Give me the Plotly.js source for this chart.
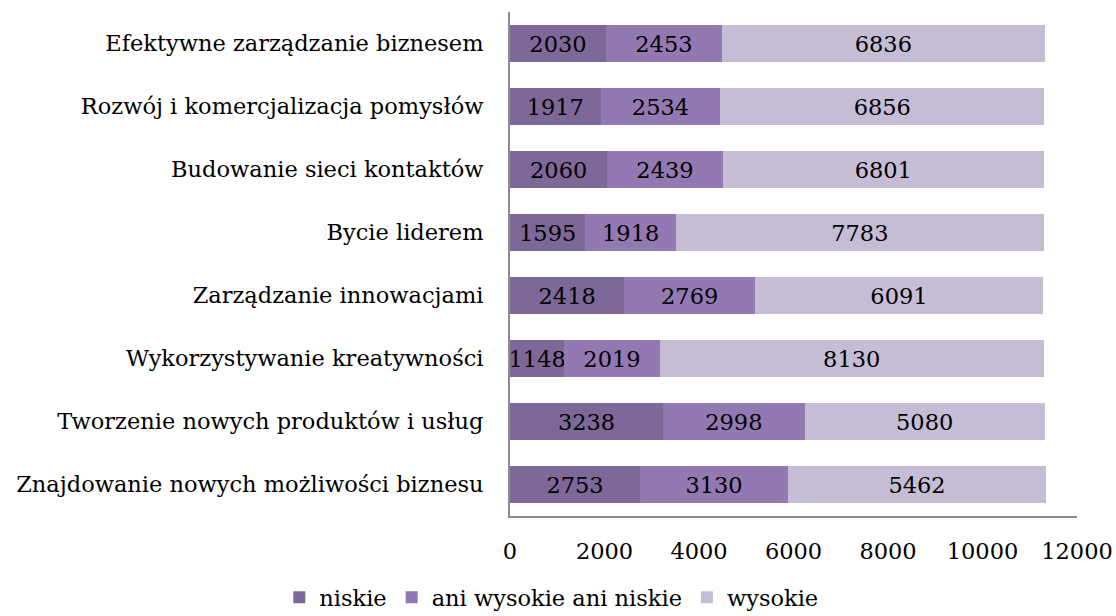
<!DOCTYPE html>
<html>
<head>
<meta charset="utf-8">
<script src="https://cdn.plot.ly/plotly-3.0.1.min.js"></script>
<style>html,body{margin:0;padding:0;background:#fff;}#chart{width:1116px;height:616px;}</style>
</head>
<body>
<div id="chart"></div>
<script>
const categories = [
  "Znajdowanie nowych możliwości biznesu",
  "Tworzenie nowych produktów i usług",
  "Wykorzystywanie kreatywności",
  "Zarządzanie innowacjami",
  "Bycie liderem",
  "Budowanie sieci kontaktów",
  "Rozwój i komercjalizacja pomysłów",
  "Efektywne zarządzanie biznesem"
];
const niskie = [2753, 3238, 1148, 2418, 1595, 2060, 1917, 2030];
const aniWysokieAniNiskie = [3130, 2998, 2019, 2769, 1918, 2439, 2534, 2453];
const wysokie = [5462, 5080, 8130, 6091, 7783, 6801, 6856, 6836];
const seriesNames = ["niskie", "ani wysokie ani niskie", "wysokie"];
const seriesColors = ["#7e6898", "#9279b1", "#c5bdd6"];
const xTicks = [0, 2000, 4000, 6000, 8000, 10000, 12000];

const FONT = "DejaVu Serif";
const FS = 22.5;

const seriesData = [niskie, aniWysokieAniNiskie, wysokie];
const traces = seriesData.map((vals, i) => ({
  type: "bar",
  orientation: "h",
  name: seriesNames[i],
  y: categories,
  x: vals,
  marker: {color: seriesColors[i], line: {width: 0}},
  text: vals.map(String),
  textposition: "inside",
  insidetextanchor: "middle",
  constraintext: "none",
  textfont: {family: FONT, size: FS, color: "#000"},
  cliponaxis: false,
  hoverinfo: "x+name"
}));

const layout = {
  width: 1116,
  height: 616,
  barmode: "stack",
  bargap: 0.41,
  margin: {l: 510, r: 39, t: 12, b: 100},
  paper_bgcolor: "#fff",
  plot_bgcolor: "#fff",
  font: {family: FONT, size: FS, color: "#000"},
  showlegend: true,
  legend: {
    orientation: "h",
    xref: "container", yref: "container",
    x: 0.494, xanchor: "center",
    y: 0.03, yanchor: "middle",
    font: {family: FONT, size: FS, color: "#000"},
    itemwidth: 30,
    tracegroupgap: 0,
    traceorder: "normal"
  },
  xaxis: {
    range: [0, 12000],
    tickvals: xTicks,
    ticktext: xTicks.map(String),
    showgrid: false,
    zeroline: false,
    showline: true,
    linecolor: "#8c8c8c",
    linewidth: 2,
    ticks: "",
    ticklabelstandoff: 14,
    tickfont: {family: FONT, size: FS, color: "#000"},
    fixedrange: true
  },
  yaxis: {
    type: "category",
    categoryorder: "array",
    categoryarray: categories,
    showgrid: false,
    zeroline: false,
    showline: true,
    linecolor: "#8c8c8c",
    linewidth: 2,
    ticks: "",
    ticklabelstandoff: 20,
    tickfont: {family: FONT, size: FS, color: "#000"},
    fixedrange: true
  }
};

Plotly.newPlot("chart", traces, layout, {displayModeBar: false, staticPlot: true});
</script>
</body>
</html>
